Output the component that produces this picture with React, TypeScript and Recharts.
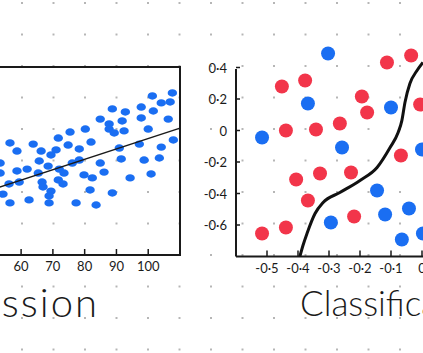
import React from "react";
import { ReferenceArea, ReferenceLine, Scatter, ScatterChart, XAxis, YAxis } from "recharts";

// regression panel (left, cropped)
const regX = [
  101.3, 107.6, 104.1, 106.9, 88.7, 92.8, 97.8, 101.6, 84.9, 87.7, 91.8, 97.8, 106.3, 75.4, 80.2, 87.7, 89.3,
  92.4, 100.0, 71.7, 56.5, 63.8, 82.0, 107.9, 58.7, 66.3, 71.0, 74.8, 78.3, 90.9, 97.2, 104.1, 69.4, 53.4, 65.7,
  68.5, 76.1, 78.3, 84.9, 91.5, 98.7, 103.5, 53.4, 58.7, 61.9, 65.4, 72.0, 73.5, 86.1, 79.8, 82.4, 94.3, 100.9,
  59.4, 56.2, 66.6, 71.7, 73.2, 66.9, 69.4, 81.7, 88.7, 54.3, 68.8, 62.5, 56.5, 68.8, 77.3, 83.6
];
const regY = [
  84.6, 86.2, 80.9, 81.4, 77.7, 76.1, 78.7, 76.6, 72.3, 69.7, 71.3, 72.9, 72.3, 65.4, 67.0, 67.0, 64.9, 66.0,
  67.0, 62.2, 59.6, 59.0, 60.1, 61.2, 55.3, 55.3, 55.9, 58.5, 56.4, 56.9, 59.0, 57.4, 53.2, 48.9, 50.0, 47.3,
  48.9, 50.5, 48.9, 51.1, 50.5, 51.6, 43.6, 44.7, 45.7, 43.6, 45.7, 43.6, 44.1, 42.6, 41.0, 41.0, 43.1, 38.8,
  37.8, 38.8, 39.9, 37.8, 36.2, 34.0, 34.6, 33.0, 32.4, 31.4, 29.3, 27.7, 27.7, 27.7, 26.6
];
const fitX = [20, 110];
const fitY = [17.7, 67.5];
const regTicks = [60, 70, 80, 90, 100];

// classification panel (right, cropped)
const blueX = [-0.303, -0.368, -0.1, -0.516, -0.258, 0.0, -0.145, -0.042, -0.119, -0.294, 0.003, -0.065];
const blueY = [0.489, 0.171, 0.146, -0.044, -0.108, -0.121, -0.381, -0.495, -0.533, -0.584, -0.654, -0.692];
const redX = [
  -0.113, -0.035, -0.452, -0.377, -0.194, -0.177, -0.006, -0.265, -0.439, -0.342, -0.068, -0.406, -0.329, -0.229,
  -0.368, -0.219, -0.439, -0.516
];
const redY = [
  0.432, 0.476, 0.279, 0.317, 0.216, 0.114, 0.165, 0.044, 0.0, 0.006, -0.159, -0.311, -0.273, -0.267, -0.444,
  -0.546, -0.616, -0.654
];
const boundaryX = [-0.394, -0.384, -0.371, -0.345, -0.319, -0.265, -0.2, -0.145, -0.103, -0.077, -0.065, -0.055, -0.039, -0.016, 0.003];
const boundaryY = [-0.8, -0.73, -0.654, -0.527, -0.457, -0.394, -0.317, -0.235, -0.108, -0.013, 0.063, 0.178, 0.298, 0.381, 0.432];
const clsXTicks = [-0.5, -0.4, -0.3, -0.2, -0.1, 0];
const clsYTicks = [-0.6, -0.4, -0.2, 0, 0.2, 0.4];

const zip = (xs: number[], ys: number[]) => xs.map((x, i) => ({ x, y: ys[i] }));

const BLUE = "#1a6ef2";
const RED = "#f2354a";
const INK = "#1a1a1a";
const FONT = "Lato, 'DejaVu Sans', sans-serif";

const fmt = (v: number) => (v === 0 ? "0" : v.toFixed(1).replace(".", "·"));

function XTick(props: any) {
  const { x, y, payload, format } = props;
  return (
    <g>
      <line x1={x} x2={x} y1={y - 6} y2={y} stroke={INK} strokeWidth={1.5} />
      <text x={x} y={y + 16} textAnchor="middle" fontSize={13} fontFamily={FONT} fill={INK}>
        {format(payload.value)}
      </text>
    </g>
  );
}

function YTick(props: any) {
  const { x, y, payload } = props;
  return (
    <g>
      <line x1={x} x2={x + 4} y1={y} y2={y} stroke={INK} strokeWidth={1.5} />
      <text x={x - 9} y={y} textAnchor="end" dominantBaseline="central" fontSize={13} fontFamily={FONT} fill={INK}>
        {fmt(payload.value)}
      </text>
    </g>
  );
}

const smallDot = (fill: string) => (p: any) => <ellipse cx={p.cx} cy={p.cy} rx={4.7} ry={3.7} fill={fill} />;
const bigDot = (fill: string) => (p: any) => <circle cx={p.cx} cy={p.cy} r={7} fill={fill} />;
const noDot = () => <g />;

const titleStyle: React.CSSProperties = {
  position: "absolute",
  fontFamily: FONT,
  fontWeight: 300,
  fontSize: 35,
  color: INK,
  whiteSpace: "nowrap",
  lineHeight: "40px"
};

export default function App() {
  return (
    <div
      style={{
        position: "fixed",
        left: 0,
        top: 0,
        width: 423,
        height: 353,
        overflow: "hidden",
        background: "#fff",
        backgroundImage: "radial-gradient(circle, #b5b5b5 0.9px, transparent 1.5px)",
        backgroundSize: "31.5px 31.5px",
        backgroundPosition: "6.25px 18.75px"
      }}
    >
      <div style={{ position: "absolute", left: -106, top: 57 }}>
        <ScatterChart width={296} height={228} margin={{ top: 10, right: 10, bottom: 0, left: 0 }}>
          <XAxis
            type="number"
            dataKey="x"
            domain={[20, 110]}
            ticks={regTicks}
            axisLine={false}
            tickLine={false}
            tickSize={0}
            tickMargin={0}
            height={30}
            tick={(p: any) => <XTick {...p} format={(v: number) => String(v)} />}
          />
          <YAxis type="number" dataKey="y" domain={[0, 100]} hide />
          <ReferenceArea x1={20} x2={110} y1={0} y2={100} fill="none" stroke={INK} strokeWidth={2} />
          <Scatter data={zip(regX, regY)} shape={smallDot(BLUE)} isAnimationActive={false} />
          <Scatter
            data={zip(fitX, fitY)}
            line={{ stroke: INK, strokeWidth: 1.5 }}
            shape={noDot}
            isAnimationActive={false}
          />
        </ScatterChart>
      </div>

      <div style={{ position: "absolute", left: 196, top: 25.5 }}>
        <ScatterChart width={257} height={260.5} margin={{ top: 10, right: 0, bottom: 0, left: 0 }}>
          <XAxis
            type="number"
            dataKey="x"
            domain={[-0.6, 0.1]}
            ticks={clsXTicks}
            axisLine={{ stroke: INK, strokeWidth: 2 }}
            tickLine={false}
            tickSize={0}
            tickMargin={0}
            height={30}
            tick={(p: any) => <XTick {...p} format={fmt} />}
          />
          <YAxis
            type="number"
            dataKey="y"
            domain={[-0.8, 0.6]}
            ticks={clsYTicks}
            axisLine={false}
            tickLine={false}
            tickSize={0}
            tickMargin={0}
            width={40}
            tick={(p: any) => <YTick {...p} />}
          />
          <ReferenceLine
            segment={[
              { x: -0.6, y: -0.8 },
              { x: -0.6, y: 0.39 }
            ]}
            stroke={INK}
            strokeWidth={2}
          />
          <Scatter data={zip(blueX, blueY)} shape={bigDot(BLUE)} isAnimationActive={false} />
          <Scatter data={zip(redX, redY)} shape={bigDot(RED)} isAnimationActive={false} />
          <Scatter
            data={zip(boundaryX, boundaryY)}
            line={{ stroke: "#111", strokeWidth: 3 }}
            lineJointType="monotoneX"
            shape={noDot}
            isAnimationActive={false}
          />
        </ScatterChart>
      </div>

      <div style={{ ...titleStyle, fontSize: 40, right: 423 - 99, top: 282, letterSpacing: 2 }}>Regression</div>
      <div style={{ ...titleStyle, left: 300, top: 282 }}>Classification</div>
    </div>
  );
}
